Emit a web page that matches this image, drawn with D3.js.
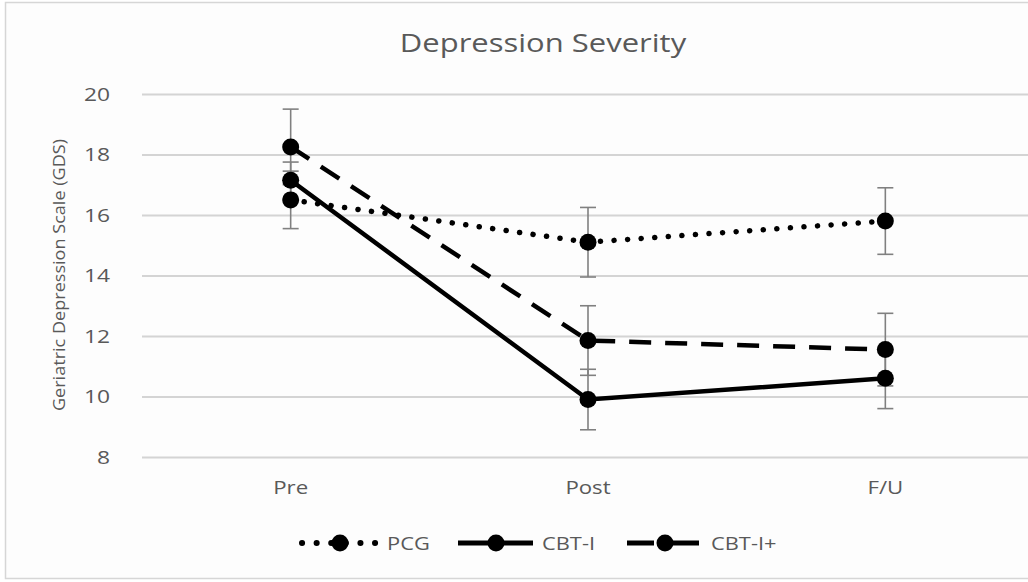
<!DOCTYPE html>
<html>
<head>
    <meta charset="utf-8">
    <title>Depression Severity</title>
    <script src="https://d3js.org/d3.v7.min.js"></script>
    <style>
        body { margin: 0; padding: 0; background: #fff; }
        text { font-family: "Open Sans", "Noto Sans", sans-serif; fill: #595959; }
    </style>
</head>
<body>
    <svg id="svg" width="1028" height="582"></svg>

    <script>
        // Data.
        const categories = ["Pre", "Post", "F/U"];
        const seriesNames = ["PCG", "CBT-I", "CBT-I+"];
        const pcgValues = [16.5, 15.1, 15.8];
        const pcgErrors = [0.95, 1.15, 1.1];
        const cbtiValues = [17.15, 9.9, 10.6];
        const cbtiErrors = [0.6, 1.0, 1.0];
        const cbtiPlusValues = [18.25, 11.85, 11.55];
        const cbtiPlusErrors = [1.25, 1.15, 1.2];
        const yTicks = [8, 10, 12, 14, 16, 18, 20];

        const series = [
            { name: seriesNames[0], values: pcgValues, errors: pcgErrors, dash: "0.1,13.5", width: 5.5, cap: "round" },
            { name: seriesNames[1], values: cbtiValues, errors: cbtiErrors, dash: null, width: 4.5, cap: "butt" },
            { name: seriesNames[2], values: cbtiPlusValues, errors: cbtiPlusErrors, dash: "22,14", width: 4.5, cap: "butt" }
        ];

        const svg = d3.select("svg");
        const stretch = 1.2; // the source picture is a little wider than tall

        // Chart frame.
        svg.append("rect")
            .attr("x", 5.5).attr("y", 2.5)
            .attr("width", 1040).attr("height", 576)
            .attr("fill", "#fdfdfd")
            .attr("stroke", "#d6d6d6")
            .attr("stroke-width", 1.5);

        const x = d3.scaleBand().domain(categories).range([142, 1034]);
        const y = d3.scaleLinear().domain([8, 20]).range([457, 94]);
        const cx = c => x(c) + x.bandwidth() / 2;

        // Title.
        svg.append("text")
            .attr("transform", "translate(543,52) scale(1.24,1)")
            .attr("text-anchor", "middle")
            .style("font-size", "25px")
            .text("Depression Severity");

        // Gridlines and y labels.
        const yAxis = svg.append("g")
            .attr("transform", "translate(142,0)")
            .call(d3.axisLeft(y).tickValues(yTicks).tickSize(-892));
        yAxis.select(".domain").remove();
        yAxis.selectAll(".tick line").attr("stroke", "#d4d4d4").attr("stroke-width", 2);
        yAxis.selectAll(".tick text")
            .attr("x", -32 / stretch)
            .attr("transform", `scale(${stretch},1)`)
            .attr("fill", "#595959")
            .style("font-size", "19px")
            .style("font-family", "'Open Sans', sans-serif");

        // X labels.
        const xAxis = svg.append("g")
            .attr("transform", "translate(0,457)")
            .call(d3.axisBottom(x).tickSize(0).tickPadding(24));
        xAxis.select(".domain").remove();
        xAxis.selectAll(".tick text")
            .attr("transform", "scale(1.17,1)")
            .attr("fill", "#595959")
            .style("font-size", "19px")
            .style("font-family", "'Open Sans', sans-serif");

        // Y-axis title.
        svg.append("text")
            .attr("transform", "translate(65,275) rotate(-90) scale(1.13,1)")
            .attr("text-anchor", "middle")
            .style("font-size", "16px")
            .text("Geriatric Depression Scale (GDS)");

        // Error bars.
        series.forEach(s => {
            const g = svg.append("g").attr("stroke", "#808080").attr("stroke-width", 1.6);
            categories.forEach((c, i) => {
                const top = y(s.values[i] + s.errors[i]);
                const bot = y(s.values[i] - s.errors[i]);
                g.append("line").attr("x1", cx(c)).attr("x2", cx(c)).attr("y1", top).attr("y2", bot);
                g.append("line").attr("x1", cx(c) - 8).attr("x2", cx(c) + 8).attr("y1", top).attr("y2", top);
                g.append("line").attr("x1", cx(c) - 8).attr("x2", cx(c) + 8).attr("y1", bot).attr("y2", bot);
            });
        });

        // Lines and markers.
        const line = d3.line().x((d, i) => cx(categories[i])).y(d => y(d));
        series.forEach(s => {
            svg.append("path")
                .datum(s.values)
                .attr("fill", "none")
                .attr("stroke", "#000")
                .attr("stroke-width", s.width)
                .attr("stroke-linecap", s.cap)
                .attr("stroke-dasharray", s.dash)
                .attr("d", line);
        });
        series.forEach(s => {
            svg.append("g").selectAll("circle")
                .data(s.values)
                .join("circle")
                .attr("cx", (d, i) => cx(categories[i]))
                .attr("cy", d => y(d))
                .attr("r", 8.5)
                .attr("fill", "#000");
        });

        // Legend.
        const legendX = [302, 458, 627];
        const legendDash = ["0.1,14.5", null, "27,18"];
        series.forEach((s, i) => {
            const g = svg.append("g").attr("transform", `translate(${legendX[i]},543)`);
            g.append("line")
                .attr("x1", 0).attr("x2", 75)
                .attr("stroke", "#000")
                .attr("stroke-width", i === 0 ? 6 : 5)
                .attr("stroke-linecap", s.cap)
                .attr("stroke-dasharray", legendDash[i]);
            g.append("circle").attr("cx", 38).attr("r", 8.5).attr("fill", "#000");
            g.append("text")
                .attr("transform", `translate(${i === 0 ? 85 : 84},7) scale(1.15,1)`)
                .style("font-size", "19px")
                .text(s.name);
        });
    </script>
</body>
</html>
